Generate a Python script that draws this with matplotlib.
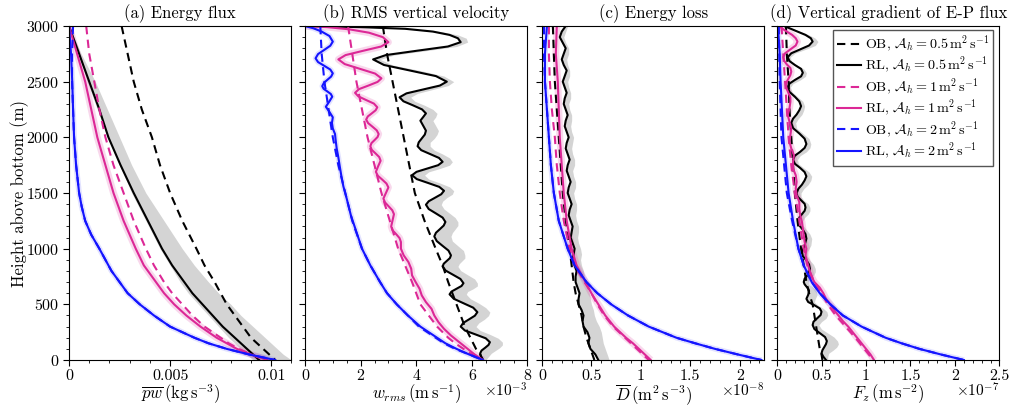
import numpy as np
import matplotlib
matplotlib.use('Agg')
import matplotlib.pyplot as plt
from matplotlib.ticker import AutoMinorLocator

plt.rcParams['font.family'] = 'serif'
plt.rcParams['font.serif'] = ['cmr10']
plt.rcParams['mathtext.fontset'] = 'cm'
plt.rcParams['axes.formatter.use_mathtext'] = True
plt.rcParams['axes.unicode_minus'] = False

# common height grid for the smooth profiles (m)
z = [3000, 2750, 2500, 2250, 2000, 1750, 1500, 1250, 1000, 850, 700, 600, 500, 400, 300, 200, 150, 100, 50, 0]
z50 = list(range(3000, -1, -50))
za2 = [3000, 2750, 2500, 2250, 2000, 1750, 1500, 1375, 1250, 1125, 1000, 900, 800, 700, 600, 500, 400, 300, 200, 150, 100, 50, 0]

# (a) energy flux, kg s^-3
a_ob05 = [0.0026, 0.0029, 0.0032, 0.0036, 0.0041, 0.0045, 0.0050, 0.0056, 0.0063, 0.0067, 0.0072, 0.0075, 0.0078, 0.0082, 0.0086, 0.0090, 0.0093, 0.0096, 0.0099, 0.0102]
a_rl05 = [0.0, 0.0005, 0.0010, 0.0015, 0.00195, 0.00255, 0.0032, 0.0039, 0.0046, 0.0051, 0.0057, 0.0061, 0.0066, 0.0071, 0.0076, 0.0082, 0.0085, 0.0088, 0.0091, 0.0094]
a_rl05_lo = [0.0, 0.0005, 0.0009, 0.0014, 0.0019, 0.0025, 0.0031, 0.0038, 0.0045, 0.0050, 0.0055, 0.0059, 0.0064, 0.0069, 0.0074, 0.0079, 0.0082, 0.0085, 0.0088, 0.0091]
a_rl05_hi = [0.0, 0.0006, 0.0013, 0.0019, 0.0025, 0.0031, 0.0038, 0.0047, 0.0056, 0.0062, 0.0069, 0.0074, 0.0080, 0.0085, 0.0091, 0.0097, 0.0100, 0.0103, 0.0106, 0.0110]
a_ob1 = [0.00085, 0.0010, 0.00125, 0.0015, 0.0018, 0.0022, 0.0027, 0.0032, 0.0038, 0.0042, 0.0047, 0.0051, 0.0056, 0.0061, 0.0067, 0.0075, 0.0079, 0.0084, 0.0090, 0.0097]
a_rl1 = [0.0, 0.0004, 0.0008, 0.0011, 0.0014, 0.0018, 0.0022, 0.0027, 0.0033, 0.0037, 0.0043, 0.0047, 0.0052, 0.0058, 0.0065, 0.0073, 0.0078, 0.0083, 0.0090, 0.0098]
a_ob2 = [0.0002, 0.00015, 0.00015, 0.0002, 0.00025, 0.00035, 0.0005, 0.00063, 0.0008, 0.0011, 0.0015, 0.0018, 0.0021, 0.0025, 0.0029, 0.0035, 0.0042, 0.0050, 0.0062, 0.0069, 0.0078, 0.0089, 0.0102]
a_rl2 = [0.0, 0.0001, 0.00016, 0.0002, 0.00025, 0.00035, 0.0005, 0.00063, 0.0008, 0.0011, 0.0015, 0.0018, 0.0021, 0.0025, 0.0029, 0.0035, 0.0042, 0.0050, 0.0062, 0.0069, 0.0078, 0.0089, 0.0102]

# (b) rms vertical velocity, 1e-3 m s^-1
b_ob05 = [2.8, 2.95, 3.15, 3.35, 3.55, 3.75, 3.95, 4.3, 4.7, 4.95, 5.15, 5.3, 5.45, 5.6, 5.75, 5.95, 6.05, 6.15, 6.3, 6.4]
b_ob1 = [1.55, 1.7, 1.85, 2.05, 2.25, 2.5, 2.75, 3.05, 3.35, 3.6, 3.85, 4.0, 4.15, 4.45, 4.75, 5.15, 5.4, 5.7, 6.0, 6.35]
b_ob2 = [0.55, 0.6, 0.7, 0.85, 1.0, 1.2, 1.45, 1.7, 2.05, 2.35, 2.7, 2.95, 3.3, 3.7, 4.1, 4.7, 5.0, 5.4, 5.9, 6.4]

zb05 = [3000, 2990, 2975, 2950, 2920, 2890, 2855, 2816, 2778, 2739, 2700, 2650, 2600, 2550, 2500, 2465, 2430, 2395, 2360, 2324,
        2288, 2251, 2215, 2182, 2150, 2105, 2060, 2025, 1990, 1955, 1920, 1885, 1850, 1815, 1780, 1750, 1720, 1690, 1660, 1625,
        1590, 1555, 1520, 1489, 1458, 1426, 1395, 1356, 1318, 1279, 1240, 1208, 1175, 1143, 1110, 1068, 1025, 983, 940, 915,
        890, 865, 840, 803, 765, 728, 690, 665, 640, 615, 590, 550, 510, 470, 430, 398, 365, 333, 300, 265,
        230, 195, 160, 135, 110, 85, 60, 30, 0]
b_rl05 = [0.0, 2.0, 3.6, 4.6, 5.2, 5.5, 5.6, 5.14, 4.03, 2.91, 2.45, 2.84, 3.78, 4.71, 5.1, 4.85, 4.25, 3.65, 3.4, 3.54,
          3.88, 4.21, 4.35, 4.25, 4.15, 4.25, 4.35, 4.31, 4.2, 4.09, 4.05, 4.18, 4.5, 4.82, 4.95, 4.79, 4.4, 4.01, 3.85, 4.02,
          4.43, 4.83, 5.0, 4.9, 4.68, 4.45, 4.35, 4.45, 4.7, 4.95, 5.05, 4.99, 4.85, 4.71, 4.65, 4.74, 4.95, 5.16, 5.25, 5.21,
          5.1, 4.99, 4.95, 5.06, 5.33, 5.59, 5.7, 5.63, 5.45, 5.27, 5.2, 5.35, 5.7, 6.05, 6.2, 6.11, 5.9, 5.69, 5.6, 5.75,
          6.13, 6.5, 6.65, 6.6, 6.48, 6.35, 6.3, 6.33, 6.4]
b_rl05_hi = [0.1, 2.2, 3.9, 4.9, 5.5, 5.8, 5.85, 5.45, 4.35, 3.2, 2.7, 3.15, 4.15, 5.0, 5.35, 5.15, 4.6, 4.05, 3.8, 3.95,
             4.3, 4.6, 4.75, 4.7, 4.6, 4.7, 4.8, 4.75, 4.65, 4.5, 4.5, 4.65, 4.95, 5.2, 5.3, 5.2, 4.85, 4.45, 4.3, 4.45,
             4.85, 5.2, 5.35, 5.3, 5.1, 4.95, 4.9, 5.0, 5.2, 5.4, 5.5, 5.5, 5.4, 5.3, 5.25, 5.3, 5.5, 5.7, 5.75, 5.75,
             5.65, 5.55, 5.5, 5.6, 5.85, 6.1, 6.2, 6.2, 6.05, 5.85, 5.8, 5.95, 6.25, 6.5, 6.65, 6.6, 6.45, 6.25, 6.15, 6.3,
             6.65, 6.95, 7.1, 7.1, 7.0, 6.85, 6.7, 6.6, 6.5]

zb1 = [3000, 2990, 2970, 2940, 2900, 2855, 2816, 2778, 2739, 2700, 2658, 2615, 2573, 2530, 2498, 2465, 2433, 2400, 2368, 2335,
       2303, 2270, 2243, 2215, 2188, 2160, 2128, 2095, 2063, 2030, 2003, 1975, 1948, 1920, 1888, 1855, 1823, 1790, 1740, 1690,
       1655, 1620, 1585, 1550, 1500, 1450, 1415, 1380, 1345, 1310, 1255, 1200, 1165, 1130, 1095, 1060, 1000, 940, 880, 820,
       760, 700, 640, 580, 520, 460, 400, 340, 280, 220, 160, 100, 50, 0]
b_rl1 = [0.0, 0.8, 1.6, 2.3, 2.8, 3.0, 2.74, 2.1, 1.46, 1.2, 1.43, 1.98, 2.52, 2.75, 2.61, 2.28, 1.94, 1.8, 1.92, 2.2,
         2.48, 2.6, 2.54, 2.4, 2.26, 2.2, 2.27, 2.43, 2.58, 2.65, 2.61, 2.5, 2.39, 2.35, 2.4, 2.54, 2.67, 2.72, 2.63, 2.55,
         2.62, 2.78, 2.93, 3.0, 2.91, 2.82, 2.88, 3.01, 3.14, 3.2, 3.15, 3.1, 3.15, 3.28, 3.4, 3.45, 3.45, 3.55, 3.72, 3.82,
         3.85, 3.98, 4.12, 4.2, 4.35, 4.55, 4.65, 4.8, 5.0, 5.25, 5.55, 5.85, 6.1, 6.4]

zb2 = [3000, 2980, 2950, 2910, 2860, 2823, 2785, 2748, 2710, 2676, 2643, 2609, 2575, 2546, 2518, 2489, 2460, 2436, 2413, 2389,
       2365, 2320, 2275, 2228, 2180, 2130, 2080, 2030, 1980, 1900, 1820, 1740, 1650, 1560, 1450, 1300, 1150, 1000, 850, 700,
       600, 500, 400, 300, 200, 150, 100, 50, 0]
b_rl2 = [0.0, 0.3, 0.6, 0.88, 1.0, 0.91, 0.69, 0.47, 0.38, 0.47, 0.69, 0.91, 1.0, 0.94, 0.81, 0.68, 0.62, 0.67, 0.8, 0.93,
         0.98, 0.87, 0.75, 0.88, 1.0, 0.97, 1.0, 1.08, 1.1, 1.14, 1.2, 1.25, 1.31, 1.38, 1.5, 1.65, 1.85, 2.05, 2.35, 2.7,
         2.95, 3.3, 3.7, 4.15, 4.75, 5.05, 5.45, 5.9, 6.4]

# (c) energy loss, 1e-8 m^2 s^-3
c_ob05 = [0.11, 0.12, 0.13, 0.15, 0.17, 0.19, 0.21, 0.24, 0.28, 0.30, 0.32, 0.34, 0.37, 0.40, 0.42, 0.45, 0.47, 0.49, 0.51, 0.53]
c_ob1 = [0.07, 0.07, 0.08, 0.10, 0.13, 0.15, 0.18, 0.22, 0.28, 0.33, 0.43, 0.50, 0.56, 0.63, 0.72, 0.84, 0.90, 0.96, 1.02, 1.08]
c_rl1 = [0.15, 0.14, 0.16, 0.17, 0.18, 0.20, 0.22, 0.25, 0.30, 0.35, 0.44, 0.50, 0.57, 0.64, 0.73, 0.85, 0.92, 0.98, 1.04, 1.10]
c_ob2 = [0.02, 0.02, 0.03, 0.05, 0.07, 0.09, 0.12, 0.17, 0.26, 0.33, 0.45, 0.56, 0.70, 0.87, 1.08, 1.36, 1.55, 1.75, 1.98, 2.22]
c_rl2 = [0.05, 0.03, 0.03, 0.05, 0.07, 0.09, 0.12, 0.17, 0.26, 0.33, 0.45, 0.56, 0.70, 0.87, 1.08, 1.36, 1.55, 1.75, 1.98, 2.22]
c_rl05 = [0.24, 0.20, 0.18, 0.21, 0.24, 0.22, 0.20, 0.22, 0.25, 0.23, 0.21, 0.23, 0.25, 0.23, 0.22, 0.24, 0.26, 0.24, 0.23, 0.25,
          0.27, 0.25, 0.24, 0.26, 0.28, 0.26, 0.25, 0.27, 0.29, 0.27, 0.26, 0.28, 0.30, 0.28, 0.27, 0.29, 0.31, 0.30, 0.29, 0.31,
          0.33, 0.32, 0.31, 0.33, 0.35, 0.34, 0.34, 0.36, 0.38, 0.37, 0.37, 0.40, 0.42, 0.41, 0.42, 0.46, 0.48, 0.47, 0.49, 0.54, 0.57]
c_rl05_hi = [0.26, 0.24, 0.22, 0.24, 0.27, 0.27, 0.25, 0.26, 0.28, 0.28, 0.26, 0.27, 0.29, 0.29, 0.27, 0.28, 0.30, 0.30, 0.29, 0.30,
             0.32, 0.31, 0.30, 0.31, 0.33, 0.33, 0.31, 0.32, 0.34, 0.34, 0.32, 0.33, 0.35, 0.35, 0.34, 0.35, 0.37, 0.37, 0.36, 0.37,
             0.39, 0.40, 0.39, 0.40, 0.42, 0.43, 0.44, 0.46, 0.48, 0.49, 0.50, 0.52, 0.53, 0.55, 0.58, 0.60, 0.61, 0.62, 0.64, 0.66, 0.68]

# (d) vertical gradient of E-P flux, 1e-7 m s^-2
d_ob05 = [0.10, 0.11, 0.13, 0.14, 0.16, 0.18, 0.20, 0.23, 0.27, 0.30, 0.33, 0.36, 0.40, 0.42, 0.44, 0.46, 0.47, 0.48, 0.50, 0.51]
d_ob1 = [0.05, 0.07, 0.09, 0.11, 0.13, 0.16, 0.20, 0.25, 0.30, 0.34, 0.42, 0.50, 0.57, 0.66, 0.77, 0.88, 0.93, 0.98, 1.03, 1.08]
d_ob2 = [0.02, 0.025, 0.03, 0.04, 0.05, 0.08, 0.11, 0.17, 0.24, 0.30, 0.39, 0.48, 0.60, 0.74, 0.95, 1.22, 1.40, 1.60, 1.84, 2.10]
d_rl2 = [0.01, 0.03, 0.04, 0.055, 0.07, 0.10, 0.13, 0.18, 0.24, 0.30, 0.39, 0.48, 0.60, 0.74, 0.95, 1.22, 1.40, 1.60, 1.84, 2.10]

zd05 = [3000, 2960, 2920, 2890, 2860, 2825, 2790, 2755, 2720, 2685, 2650, 2615, 2580, 2548, 2515, 2483, 2450, 2408, 2365, 2323,
        2280, 2243, 2205, 2168, 2130, 2083, 2035, 1988, 1940, 1905, 1870, 1835, 1800, 1763, 1725, 1688, 1650, 1613, 1575, 1538,
        1500, 1468, 1435, 1403, 1370, 1340, 1310, 1280, 1250, 1210, 1170, 1130, 1090, 1030, 970, 933, 895, 858, 820, 790,
        760, 730, 700, 680, 660, 640, 620, 585, 550, 521, 492, 463, 434, 404, 374, 344, 314, 278, 242, 206,
        170, 143, 115, 88, 60, 30, 0]
d_rl05 = [0.08, 0.2, 0.32, 0.38, 0.40, 0.36, 0.26, 0.16, 0.12, 0.14, 0.2, 0.27, 0.29, 0.27, 0.2, 0.14, 0.12, 0.14, 0.2, 0.25,
          0.27, 0.25, 0.22, 0.18, 0.16, 0.18, 0.25, 0.31, 0.33, 0.31, 0.26, 0.2, 0.18, 0.2, 0.26, 0.31, 0.33, 0.31, 0.28, 0.24,
          0.22, 0.23, 0.27, 0.31, 0.32, 0.31, 0.28, 0.25, 0.24, 0.25, 0.29, 0.32, 0.33, 0.31, 0.28, 0.29, 0.33, 0.36, 0.37, 0.36,
          0.34, 0.31, 0.30, 0.31, 0.33, 0.35, 0.36, 0.35, 0.33, 0.35, 0.42, 0.48, 0.50, 0.49, 0.45, 0.41, 0.40, 0.42, 0.48, 0.54,
          0.56, 0.55, 0.53, 0.51, 0.50, 0.52, 0.55]
d_rl05_hi = [0.1, 0.23, 0.36, 0.43, 0.46, 0.43, 0.32, 0.2, 0.15, 0.16, 0.22, 0.3, 0.33, 0.32, 0.26, 0.18, 0.15, 0.17, 0.23, 0.29,
             0.31, 0.3, 0.28, 0.24, 0.21, 0.22, 0.29, 0.36, 0.38, 0.37, 0.33, 0.26, 0.23, 0.24, 0.3, 0.36, 0.39, 0.38, 0.35, 0.3,
             0.27, 0.27, 0.3, 0.35, 0.37, 0.37, 0.35, 0.31, 0.29, 0.29, 0.33, 0.37, 0.39, 0.38, 0.34, 0.34, 0.37, 0.41, 0.43, 0.43,
             0.41, 0.37, 0.35, 0.36, 0.39, 0.42, 0.44, 0.45, 0.43, 0.42, 0.46, 0.52, 0.56, 0.57, 0.55, 0.5, 0.47, 0.5, 0.57, 0.64,
             0.68, 0.69, 0.67, 0.63, 0.58, 0.57, 0.57]

zd1 = [3000, 2960, 2920, 2890, 2860, 2825, 2790, 2755, 2720, 2688, 2655, 2623, 2590, 2560, 2530, 2500, 2470, 2433, 2395, 2358,
       2320, 2260, 2200, 2140, 2080, 2020, 1960, 1900, 1840, 1780, 1720, 1660, 1600, 1540, 1480, 1420, 1360, 1300, 1240, 1180,
       1120, 1060, 1000, 940, 880, 820, 760, 700, 650, 600, 550, 500, 450, 400, 350, 300, 250, 200, 150, 100, 50, 0]
d_rl1 = [0.02, 0.09, 0.17, 0.21, 0.23, 0.21, 0.15, 0.09, 0.07, 0.08, 0.11, 0.15, 0.16, 0.15, 0.13, 0.11, 0.10, 0.11, 0.13, 0.15,
         0.15, 0.14, 0.12, 0.14, 0.16, 0.15, 0.14, 0.16, 0.19, 0.18, 0.18, 0.21, 0.22, 0.21, 0.22, 0.25, 0.25, 0.26, 0.28, 0.29,
         0.30, 0.31, 0.33, 0.32, 0.34, 0.36, 0.38, 0.42, 0.48, 0.52, 0.55, 0.60, 0.64, 0.69, 0.74, 0.80, 0.85, 0.90, 0.95, 1.00, 1.05, 1.09]

black = 'black'
pink = '#dc2896'
blue = '#1414ff'
gray_band = '#d4d4d4'
dash = (4, 2.6)
lw = 1.5

fig = plt.figure(figsize=(10.18, 4.09), dpi=100)
lefts = [0.0678, 0.2996, 0.5324, 0.7633]
axs = [fig.add_axes([l, 0.1198, 0.2185, 0.8166]) for l in lefts]


def profiles(ax, ob05, rl05, ob1, rl1, ob2, rl2):
    zo05, vo05 = ob05
    zr05, vr05 = rl05
    zo1, vo1 = ob1
    zr1, vr1 = rl1
    zo2, vo2 = ob2
    zr2, vr2 = rl2
    ax.plot(vr1, zr1, color=pink, lw=5, alpha=0.18, solid_capstyle='butt')
    ax.plot(vr2, zr2, color=blue, lw=4, alpha=0.12, solid_capstyle='butt')
    ax.plot(vo05, zo05, color=black, lw=lw, dashes=dash, label=r'OB, $\mathcal{A}_h = 0.5\,\mathrm{m^2\,s^{-1}}$')
    ax.plot(vr05, zr05, color=black, lw=lw, label=r'RL, $\mathcal{A}_h = 0.5\,\mathrm{m^2\,s^{-1}}$')
    ax.plot(vo1, zo1, color=pink, lw=lw, dashes=dash, label=r'OB, $\mathcal{A}_h = 1\,\mathrm{m^2\,s^{-1}}$')
    ax.plot(vr1, zr1, color=pink, lw=lw, label=r'RL, $\mathcal{A}_h = 1\,\mathrm{m^2\,s^{-1}}$')
    ax.plot(vo2, zo2, color=blue, lw=lw, dashes=dash, label=r'OB, $\mathcal{A}_h = 2\,\mathrm{m^2\,s^{-1}}$')
    ax.plot(vr2, zr2, color=blue, lw=lw, label=r'RL, $\mathcal{A}_h = 2\,\mathrm{m^2\,s^{-1}}$')


ax = axs[0]
ax.fill_betweenx(z, a_rl05_lo, a_rl05_hi, color=gray_band, lw=0)
profiles(ax, (z, a_ob05), (z, a_rl05), (z, a_ob1), (z, a_rl1), (za2, a_ob2), (za2, a_rl2))
ax.set_xlim(0, 0.011)
ax.set_xticks([0, 0.005, 0.01])
ax.set_xticklabels(['0', '0.005', '0.01'])
ax.set_xlabel(r'$\overline{pw}\,(\mathrm{kg\,s^{-3}})$', labelpad=-1)
ax.set_title('(a) Energy flux')
ax.set_ylabel('Height above bottom (m)', labelpad=-2)

ax = axs[1]
ax.fill_betweenx(zb05, b_rl05, b_rl05_hi, color=gray_band, lw=0)
profiles(ax, (z, b_ob05), (zb05, b_rl05), (z, b_ob1), (zb1, b_rl1), (z, b_ob2), (zb2, b_rl2))
ax.set_xlim(0, 8)
ax.set_xticks([0, 2, 4, 6, 8])
ax.set_xticklabels(['0', '2', '4', '6', '8'])
ax.set_xlabel(r'$w_{rms}\,(\mathrm{m\,s^{-1}})$', labelpad=-1)
ax.set_title('(b) RMS vertical velocity')
ax.text(1.0, -0.066, r'$\times10^{-3}$', transform=ax.transAxes, ha='right', va='top', fontsize=11)

ax = axs[2]
ax.fill_betweenx(z50, c_rl05, c_rl05_hi, color=gray_band, lw=0)
profiles(ax, (z, c_ob05), (z50, c_rl05), (z, c_ob1), (z, c_rl1), (z, c_ob2), (z, c_rl2))
ax.set_xlim(0, 2.25)
ax.set_xticks([0, 0.5, 1, 1.5, 2])
ax.set_xticklabels(['0', '0.5', '1', '1.5', '2'])
ax.set_xlabel(r'$\overline{D}\,(\mathrm{m^2\,s^{-3}})$', labelpad=-1)
ax.set_title('(c) Energy loss')
ax.text(1.0, -0.066, r'$\times10^{-8}$', transform=ax.transAxes, ha='right', va='top', fontsize=11)

ax = axs[3]
ax.fill_betweenx(zd05, d_rl05, d_rl05_hi, color=gray_band, lw=0)
profiles(ax, (z, d_ob05), (zd05, d_rl05), (z, d_ob1), (zd1, d_rl1), (z, d_ob2), (z, d_rl2))
ax.set_xlim(0, 2.5)
ax.set_xticks([0, 0.5, 1, 1.5, 2, 2.5])
ax.set_xticklabels(['0', '0.5', '1', '1.5', '2', '2.5'])
ax.set_xlabel(r'$F_z\,(\mathrm{m\,s^{-2}})$', labelpad=-1)
ax.set_title('(d) Vertical gradient of E-P flux')
ax.text(1.0, -0.066, r'$\times10^{-7}$', transform=ax.transAxes, ha='right', va='top', fontsize=11)
leg = ax.legend(loc='upper right', bbox_to_anchor=(0.972, 0.988), borderaxespad=0, fontsize=10.2,
                fancybox=False, framealpha=1, edgecolor='#555555', handlelength=1.7,
                handletextpad=0.3, labelspacing=0.0, borderpad=0.25)
leg.get_frame().set_linewidth(1.0)

for i, ax in enumerate(axs):
    ax.set_ylim(0, 3000)
    ax.set_yticks(range(0, 3001, 500))
    ax.xaxis.set_minor_locator(AutoMinorLocator())
    ax.yaxis.set_minor_locator(AutoMinorLocator())
    ax.tick_params(which='both', direction='out', top=False, right=False, labelsize=11.5, pad=3)
    ax.tick_params(which='major', length=4)
    ax.tick_params(which='minor', length=2.5)
    if i > 0:
        ax.tick_params(labelleft=False)
    ax.title.set_fontsize(12)
    ax.xaxis.label.set_fontsize(12)
    ax.yaxis.label.set_fontsize(12)

fig.savefig('out.png', dpi=100)
